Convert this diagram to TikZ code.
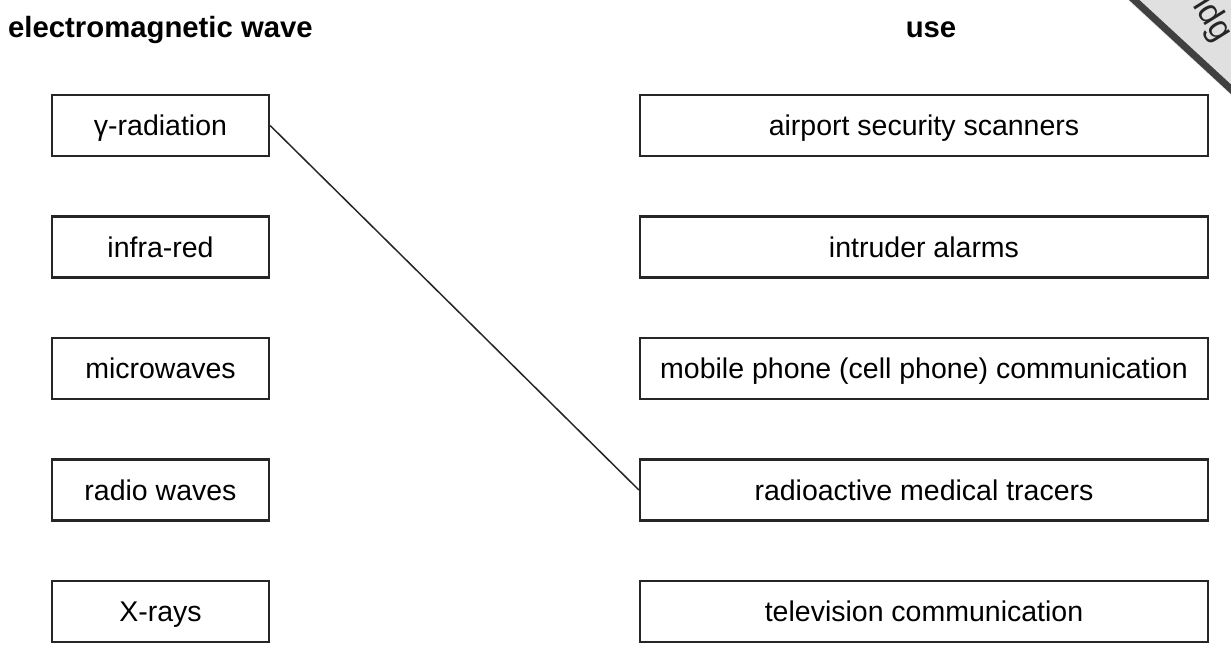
\documentclass[tikz,border=0pt]{standalone}
\usepackage{fontspec}
\setmainfont{Liberation Sans}
\usetikzlibrary{positioning}
\tikzset{wave/.style={draw=black!85,line width=2.2pt,minimum width=217pt,minimum height=61pt,inner sep=0pt,
    text height=23pt,text depth=3pt,font=\fontsize{28.5}{34}\selectfont},
  usebox/.style={wave,minimum width=568pt},
  heading/.style={font=\fontsize{29.3}{34}\selectfont\bfseries,anchor=base,inner sep=0pt},
  node distance=58.3pt}

\begin{document}
\begin{tikzpicture}[x=1pt,y=-1pt]
  \useasboundingbox (0,0) rectangle (1231,653);

  % stamp in the corner
  \begin{scope}
    \clip (0,0) rectangle (1231,653);
    \fill[black!12] (1128,0) -- (1231,95) -- (1231,0) -- cycle;
    \draw[line width=7pt,black!75] (1131,-3) -- (1234,92);
    \node[rotate=-58,font=\fontsize{34}{34}\selectfont,black!85] (stamp) at (1212,20) {idg};
  \end{scope}

  \node[heading,anchor=base west] (hwave) at (8,37) {electromagnetic wave};
  \node[heading] (huse) at (931,37) {use};

  \node[wave] (gamma) at (160.5,125.5) {γ-radiation};
  \node[wave] (infra) [below=of gamma] {infra-red};
  \node[wave] (micro) [below=of infra] {microwaves};
  \node[wave] (radio) [below=of micro] {radio waves};
  \node[wave] (xray) [below=of radio] {X-rays};

  \node[usebox] (airport) at (924,125.5) {airport security scanners};
  \node[usebox] (alarm) [below=of airport] {intruder alarms};
  \node[usebox] (mobile) [below=of alarm] {mobile phone (cell phone) communication};
  \node[usebox] (tracer) [below=of mobile] {radioactive medical tracers};
  \node[usebox] (tv) [below=of tracer] {television communication};

  \draw[line width=1.5pt,black!85] (gamma.east) -- (tracer.west);
\end{tikzpicture}
\end{document}
